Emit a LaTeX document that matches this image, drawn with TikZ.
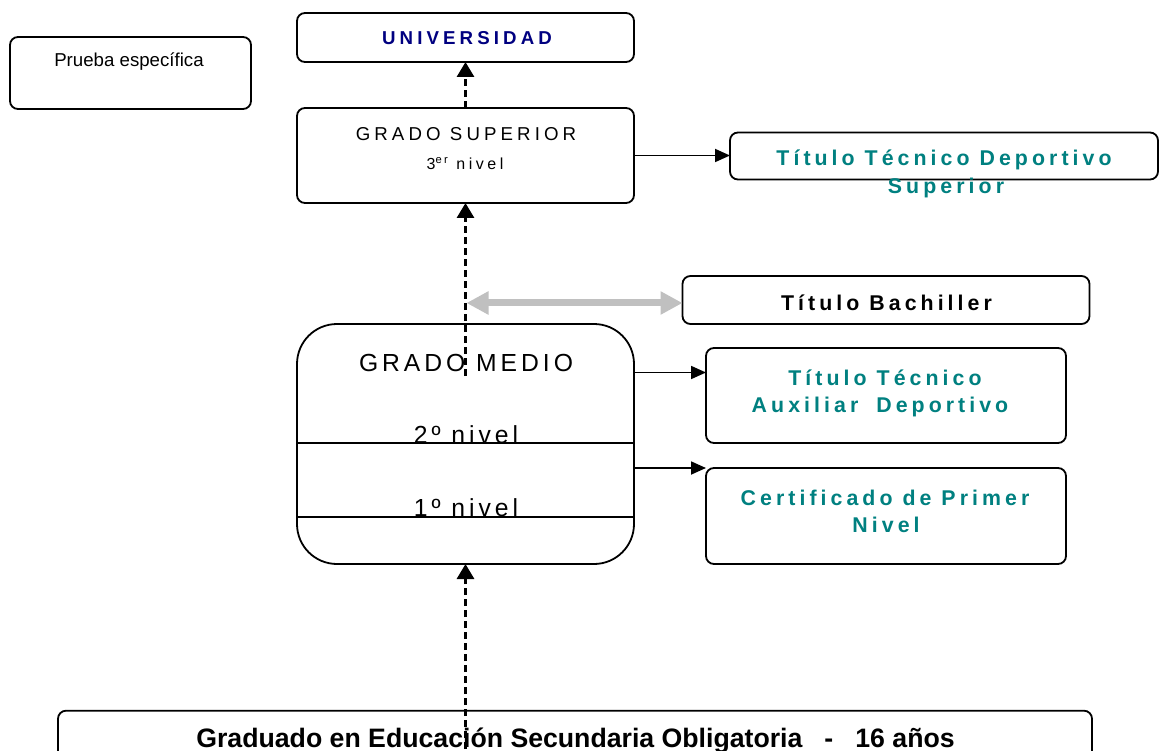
\documentclass[tikz,border=0pt]{standalone}
\usepackage{fontspec}
\setmainfont{Liberation Sans}
\newfontfamily\spacedA[LetterSpace=22]{Liberation Sans}
\newfontfamily\spacedB[LetterSpace=19]{Liberation Sans}
\newfontfamily\spacedC[LetterSpace=16]{Liberation Sans}
\newfontfamily\spacedD[LetterSpace=22]{Liberation Sans}
\usepackage{tikz}
\usetikzlibrary{arrows.meta,positioning}
\definecolor{navy}{HTML}{000080}
\definecolor{tealtxt}{HTML}{008080}
\definecolor{lightgray}{HTML}{C0C0C0}

\begin{document}
\begin{tikzpicture}[x=1pt, y=-1pt, >={Triangle[length=15pt,width=13pt]}, line width=1.8pt,
	box/.style={draw, rounded corners=8pt, line width=1.8pt, inner sep=0, outer sep=0},
	txt/.style={anchor=base, inner sep=0, outer sep=0},
	dasharrow/.style={->, line width=3pt, dash pattern=on 7pt off 4pt, >={Triangle[length=15pt,width=17pt]}},
	grayarrow/.style={{Triangle[length=22pt,width=22pt]}-{Triangle[length=22pt,width=22pt]}, draw=lightgray, line width=7pt},
	small/.style={font=\fontsize{18.67}{22}\spacedA},
	titl/.style={font=\fontsize{21.33}{26}\spacedB\bfseries, text=tealtxt},
	big/.style={font=\fontsize{24.7}{29}\spacedC}]
	\useasboundingbox (0,0) rectangle (1159,751);
	% boxes
	\node[box, minimum width=241pt, minimum height=72pt] (prueba) at (130.5,73) {};
	\node[box, minimum width=337pt, minimum height=49pt] (univ) at (465.5,37.5) {};
	\node[box, minimum width=337pt, minimum height=95pt] (gs) at (465.5,155.5) {};
	\node[box, minimum width=428pt, minimum height=47pt] (ttds) at (944,156) {};
	\node[box, minimum width=407pt, minimum height=48pt] (bach) at (886,300) {};
	\node[box, rounded corners=40pt, minimum width=337pt, minimum height=240pt] (gm) at (465.5,444) {};
	\node[box, minimum width=360pt, minimum height=95pt] (tta) at (886,395.5) {};
	\node[box, minimum width=360pt, minimum height=96pt] (cert) at (886,516) {};
	\node[box, minimum width=1034pt, minimum height=80pt] (eso) at (575,750.7) {};
	% texts
	\node[txt, font=\fontsize{18.67}{22}\selectfont] (prueba-t) at (129,67) {Prueba específica};
	\node[txt, font=\fontsize{18.67}{22}\spacedA\bfseries, text=navy] (univ-t) at (467,45) {UNIVERSIDAD};
	\node[txt, small] (gs-t1) at (466,140.7) {GRADO SUPERIOR};
	\node[txt, font=\fontsize{16}{19}\spacedD] (gs-t2) at (465,170) {3\textsuperscript{er} nivel};
	\node[txt, titl] (ttds-t1) at (944,166) {Título Técnico Deportivo};
	\node[txt, titl] (ttds-t2) at (946,193.3) {Superior};
	\node[txt, titl, text=black] (bach-t) at (886.5,310.7) {Título Bachiller};
	\node[txt, big] (gm-t) at (466,371) {GRADO MEDIO};
	\node[txt, big] (nv2) at (466,443.3) {2º nivel};
	\node[txt, big] (nv1) at (466,516.7) {1º nivel};
	\node[txt, titl] (tta-t1) at (885,385) {Título Técnico};
	\node[txt, titl] (tta-t2) at (880,412.7) {Auxiliar\hspace{8pt} Deportivo};
	\node[txt, titl] (cert-t1) at (885,505) {Certificado de Primer};
	\node[txt, titl] (cert-t2) at (886,532.7) {Nivel};
	\node[txt, font=\fontsize{26.67}{30}\selectfont\bfseries] (eso-t) at (575.5,747) {Graduado en Educación Secundaria Obligatoria\hspace{22pt}-\hspace{22pt}16 años};
	% level lines
	\draw (gm.west |- nv2.base) -- (gm.east |- nv2.base);
	\draw (gm.west |- nv1.base) -- (gm.east |- nv1.base);
	% connectors
	\coordinate (gmtop) at (465.5,376);
	\coordinate (esobot) at (465.5,760);
	\coordinate (bachl) at (466.5,303);
	\coordinate (a1) at (633,372.5);
	\coordinate (a2) at (633,468);
	\draw[dasharrow] (gs.north) -- (univ.south);
	\draw[dasharrow] (gmtop) -- (gs.south);
	\draw[dasharrow] (esobot) -- (gm.south);
	\draw[grayarrow] (bachl) -- (bachl -| bach.west);
	\draw[->] (gs.east) -- (gs.east -| ttds.west);
	\draw[->] (a1) -- (a1 -| tta.west);
	\draw[->] (a2) -- (a2 -| cert.west);
\end{tikzpicture}
\end{document}
